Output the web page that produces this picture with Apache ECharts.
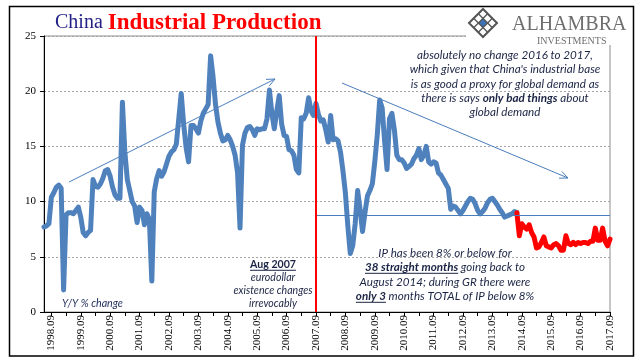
<!DOCTYPE html>
<html><head><meta charset="utf-8">
<script src="https://cdn.jsdelivr.net/npm/echarts@6/dist/echarts.min.js"></script>
<style>html,body{margin:0;padding:0;background:#fff}#c{width:641px;height:361px}</style>
</head><body><div id="c"></div>
<script>
// ---- data ----
const startYear = 1998, startMonth = 6;           // first category 1998.06
// Y/Y % change, 1998.06 .. 2014.07 (blue)
const ipBlue = [
  7.7, 7.8, 8.0, 10.4, 10.8, 11.3, 11.5, 11.2, 2.0, 8.8,
  9.0, 9.0, 8.9, 9.2, 9.5, 8.6, 7.2, 6.9, 7.2, 7.4,
  12.0, 11.4, 11.3, 11.6, 12.1, 12.8, 12.9, 12.3, 11.3, 10.6,
  10.3, 10.3, 19.0, 14.5, 12.0, 11.0, 10.0, 9.6, 8.1, 9.5,
  9.2, 7.9, 8.9, 8.4, 2.8, 10.9, 12.1, 12.8, 12.3, 12.7,
  13.4, 14.1, 14.5, 14.7, 15.2, 17.5, 19.8, 17.0, 14.9, 13.6,
  16.9, 16.9, 16.6, 16.2, 17.3, 18.0, 18.4, 18.8, 23.2, 21.3,
  18.8, 17.2, 16.2, 15.5, 15.6, 16.0, 15.6, 15.0, 14.2, 12.6,
  7.6, 15.1, 16.2, 16.7, 16.8, 16.5, 16.0, 16.6, 16.5, 16.6,
  16.6, 17.5, 20.1, 18.0, 16.6, 18.2, 19.6, 17.0, 16.0, 15.9,
  14.7, 14.6, 14.2, 12.9, 12.6, 17.6, 17.5, 18.0, 19.4, 18.2,
  17.8, 18.9, 17.9, 17.3, 17.4, 16.5, 15.4, 17.8, 15.6, 15.7,
  15.5, 14.5, 12.8, 10.8, 7.8, 5.3, 6.0, 8.0, 11.0, 9.3,
  7.3, 9.0, 10.5, 11.0, 11.6, 13.6, 16.0, 19.2, 18.5, 15.5,
  12.9, 17.5, 18.0, 16.5, 14.2, 13.8, 13.8, 13.5, 13.0, 13.2,
  13.4, 13.9, 14.2, 14.8, 13.8, 14.2, 15.0, 13.6, 13.4, 13.6,
  13.5, 12.6, 12.4, 12.0, 11.6, 11.2, 9.3, 9.6, 9.5, 9.2,
  8.9, 9.2, 9.6, 10.0, 10.3, 10.2, 9.8, 9.2, 8.9, 9.1,
  9.4, 9.9, 10.2, 10.3, 10.0, 9.7, 9.3, 9.0, 8.6, 8.7,
  8.8, 8.9, 9.1, 9.0
];
// Y/Y % change, 2014.07 .. 2017.09 (red)
const ipRed = [
  9.0, 6.9, 8.0, 7.7, 7.5, 7.9, 7.2,
  6.8, 5.8, 5.9, 6.3, 6.8, 6.0, 5.9, 5.8, 6.1, 6.2,
  6.0, 5.6, 5.6, 6.9, 6.2, 6.1, 6.3, 6.1, 6.3, 6.2,
  6.3, 6.3, 6.2, 6.4, 6.4, 7.6, 6.5, 6.5, 7.6, 6.4,
  6.0, 6.6
];
const tickLabels = ['1998.09','1999.09','2000.09','2001.09','2002.09','2003.09','2004.09',
  '2005.09','2006.09','2007.09','2008.09','2009.09','2010.09','2011.09','2012.09','2013.09',
  '2014.09','2015.09','2016.09','2017.09'];
const breakCategory = '2007.09';
const floorLevel = 8.8;

// ---- build ----
const totalMonths = ipBlue.length + ipRed.length - 1;
const categories = [];
for (let k = 0; k < totalMonths; k++) {
  const m = startMonth - 1 + k;
  categories.push((startYear + Math.floor(m / 12)) + '.' + String(m % 12 + 1).padStart(2, '0'));
}
const blueData = ipBlue.concat(new Array(totalMonths - ipBlue.length).fill(null));
const redData = new Array(totalMonths - ipRed.length).fill(null).concat(ipRed);

const FAM = 'Lato, "Liberation Sans", sans-serif';
const SERIF = '"Liberation Serif", "Times New Roman", serif';
const TXT = '#1b2444';
const ctx = document.createElement('canvas').getContext('2d');
function tw(t, font) { ctx.font = font; return ctx.measureText(t).width; }
function fontStr(s, size, fam) { return (s.i ? 'italic ' : '') + (s.b ? 'bold ' : '') + size + 'px ' + fam; }
function fitSize(line, target, fam) {
  const w = line.reduce((a, s) => a + tw(s.t, fontStr(s, 20, fam)), 0);
  return 20 * target / w;
}
const els = [];
function addLine(segs, cx, cy, size, color, align) {
  const fonts = segs.map(s => fontStr(s, size, FAM));
  const ws = segs.map((s, k) => tw(s.t, fonts[k]));
  const total = ws.reduce((a, b) => a + b, 0);
  let x = align === 'left' ? cx : cx - total / 2;
  segs.forEach((s, k) => {
    els.push({ type: 'text', x: x, y: cy, z: 50,
      style: { text: s.t, font: fonts[k], fill: color, textAlign: 'left', textVerticalAlign: 'middle', verticalAlign: 'middle' } });
    if (s.u) els.push({ type: 'line', z: 50, shape: { x1: x, y1: cy + size * 0.5, x2: x + ws[k], y2: cy + size * 0.5 },
      style: { stroke: color, lineWidth: 1 } });
    x += ws[k];
  });
}
function block(lines, cx, ys, size, color) { lines.forEach((l, k) => addLine(l, cx, ys[k], size, color)); }

// text block 1
const t1 = [
  [{ t: 'absolutely no change 2016 to 2017,', i: 1 }],
  [{ t: "which given that China's industrial base", i: 1 }],
  [{ t: 'is as good a proxy for global demand as', i: 1 }],
  [{ t: 'there is says ', i: 1 }, { t: 'only bad things', i: 1, b: 1 }, { t: ' about', i: 1 }],
  [{ t: 'global demand', i: 1 }]
];
block(t1, 505, [55, 69.4, 83.8, 98.2, 112.6], fitSize(t1[1], 191, FAM), TXT);
// text block 2
const t2 = [
  [{ t: 'Aug 2007', b: 1, u: 1 }],
  [{ t: 'eurodollar', i: 1 }],
  [{ t: 'existence changes', i: 1 }],
  [{ t: 'irrevocably', i: 1 }]
];
block(t2, 273, [265, 278, 291, 304], fitSize(t2[2], 79, FAM), TXT);
// text block 3
const t3 = [
  [{ t: 'IP has been 8% or below for', i: 1 }],
  [{ t: '38 straight months', i: 1, b: 1, u: 1 }, { t: ' going back to', i: 1 }],
  [{ t: 'August 2014; during GR there were', i: 1 }],
  [{ t: 'only 3', i: 1, b: 1, u: 1 }, { t: ' months TOTAL of IP below 8%', i: 1 }]
];
block(t3, 445, [253, 267.5, 282, 296.5], fitSize(t3[2], 171, FAM), TXT);
// Y/Y label
const yy = [{ t: 'Y/Y % change', i: 1 }];
addLine(yy, 62, 304, fitSize(yy, 61, FAM), '#1f2d5c', 'left');

// arrows
function arrow(x1, y1, x2, y2) {
  const a = Math.atan2(y2 - y1, x2 - x1), L = 9, s = 0.42;
  els.push({ type: 'line', z: 20, shape: { x1, y1, x2, y2 }, style: { stroke: '#4a7ebb', lineWidth: 1 } });
  els.push({ type: 'polyline', z: 20, shape: { points: [[x2 - L * Math.cos(a - s), y2 - L * Math.sin(a - s)], [x2, y2], [x2 - L * Math.cos(a + s), y2 - L * Math.sin(a + s)]] },
    style: { stroke: '#4a7ebb', lineWidth: 1, fill: 'none' } });
}
arrow(69, 182, 275, 79);
arrow(342, 83, 568, 178);

// title
const fA = '20px ' + SERIF, fB = 'bold 23px ' + SERIF;
els.push({ type: 'text', x: 55, y: 23, z: 50, style: { text: 'China', font: fA, fill: '#1f1f86', textVerticalAlign: 'middle', verticalAlign: 'middle' } });
els.push({ type: 'text', x: 55 + tw('China ', fA), y: 23, z: 50, style: { text: 'Industrial Production', font: fB, fill: '#ff0000', textVerticalAlign: 'middle', verticalAlign: 'middle' } });

// logo
els.push({ type: 'rect', z: 30, shape: { x: 466, y: 8, width: 166, height: 37 }, style: { fill: '#fff' } });
(function () {
  const cx = 483, cy = 23, h = 14;
  const P = (u, v) => [cx - h + h * (u + v), cy + h * (v - u)];
  els.push({ type: 'polygon', z: 31, shape: { points: [P(1/3, 1/3), P(2/3, 1/3), P(2/3, 2/3), P(1/3, 2/3)] }, style: { fill: '#3d72b8' } });
  els.push({ type: 'polygon', z: 32, shape: { points: [P(0, 0), P(1, 0), P(1, 1), P(0, 1)] }, style: { fill: 'none', stroke: '#555', lineWidth: 2 } });
  [1/3, 2/3].forEach(q => {
    els.push({ type: 'line', z: 32, shape: { x1: P(q, 0)[0], y1: P(q, 0)[1], x2: P(q, 1)[0], y2: P(q, 1)[1] }, style: { stroke: '#555', lineWidth: 1.3 } });
    els.push({ type: 'line', z: 32, shape: { x1: P(0, q)[0], y1: P(0, q)[1], x2: P(1, q)[0], y2: P(1, q)[1] }, style: { stroke: '#555', lineWidth: 1.3 } });
  });
})();
els.push({ type: 'text', x: 512, y: 25, z: 33, style: { text: 'ALHAMBRA', font: '20px ' + SERIF, fill: '#6e6e6e', textVerticalAlign: 'middle', verticalAlign: 'middle' } });
els.push({ type: 'text', x: 537, y: 41.5, z: 33, style: { text: 'INVESTMENTS', font: '10px ' + SERIF, fill: '#6e6e6e', textVerticalAlign: 'middle', verticalAlign: 'middle' } });

// outer frame
els.push({ type: 'rect', z: 100, shape: { x: 9.5, y: 6.5, width: 624, height: 349.5 }, style: { fill: 'none', stroke: '#000', lineWidth: 1.5 } });

const chart = echarts.init(document.getElementById('c'));
chart.setOption({
  animation: false,
  backgroundColor: '#fff',
  grid: { left: 44, right: 31, top: 36, bottom: 49, show: true, borderColor: '#8c8c8c', borderWidth: 1 },
  xAxis: {
    type: 'category', data: categories, boundaryGap: false,
    axisLine: { lineStyle: { color: '#000', width: 1 } },
    axisTick: { show: true, length: 4, interval: (i, v) => v.endsWith('.09') || v.endsWith('.03'), lineStyle: { color: '#000' } },
    axisLabel: { interval: (i, v) => tickLabels.includes(v), rotate: 90, margin: 3, fontFamily: SERIF, fontSize: 11, color: '#000' },
    splitLine: { show: false }
  },
  yAxis: {
    type: 'value', min: 0, max: 25, interval: 5,
    axisLine: { show: true, lineStyle: { color: '#000' } },
    axisTick: { show: true, length: 4, lineStyle: { color: '#000' } },
    axisLabel: { fontFamily: SERIF, fontSize: 11, color: '#000', margin: 8 },
    splitLine: { lineStyle: { color: '#a6a6a6', type: [2, 2] } }
  },
  series: [
    { type: 'line', data: blueData, symbol: 'none', showSymbol: false, z: 3,
      lineStyle: { color: '#4f81bd', width: 5, cap: 'round', join: 'round' },
      markLine: { silent: true, symbol: 'none', animation: false, label: { show: false },
        lineStyle: { color: '#4a7ebb', width: 1, type: 'solid' },
        data: [[{ coord: [breakCategory, floorLevel] }, { coord: [categories[totalMonths - 1], floorLevel] }]] } },
    { type: 'line', data: redData, symbol: 'none', showSymbol: false, z: 4,
      lineStyle: { color: '#ff0000', width: 5, cap: 'round', join: 'round' },
      markLine: { silent: true, symbol: 'none', animation: false, label: { show: false },
        lineStyle: { color: '#ff0000', width: 2, type: 'solid' },
        data: [{ xAxis: breakCategory }] } }
  ],
  graphic: { elements: els }
});
</script></body></html>
